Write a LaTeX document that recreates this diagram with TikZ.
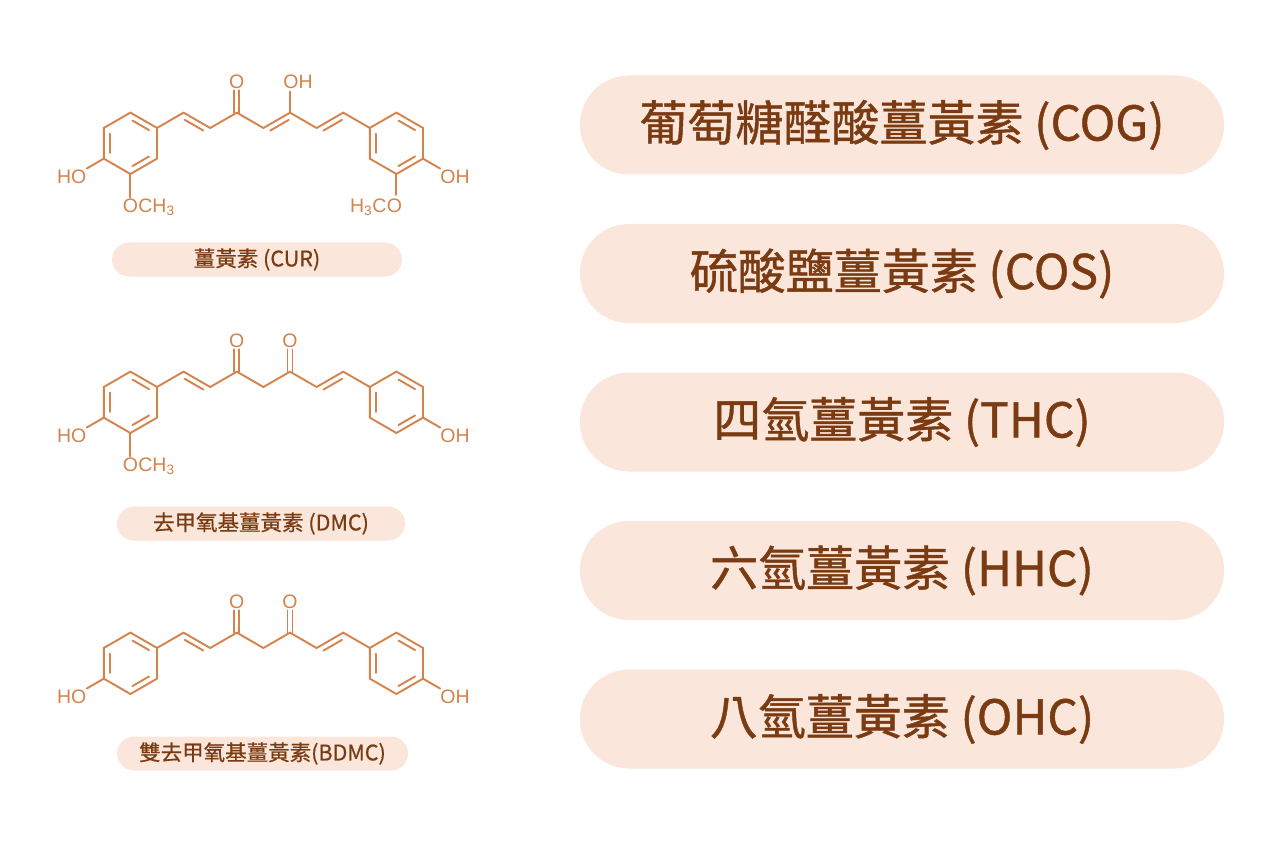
\documentclass[tikz,border=0pt]{standalone}
\usepackage{fontspec}
\setmainfont{Noto Sans CJK TC}
\newfontfamily\bigcjk[FakeBold=0.9]{Noto Sans CJK TC}
\newfontfamily\smallcjk[FakeBold=0.5]{Noto Sans CJK TC}
\newfontfamily\molfont{Liberation Sans}
\usetikzlibrary{calc}
\definecolor{molc}{HTML}{D4834C}
\definecolor{txtc}{HTML}{7A3B12}
\definecolor{pillc}{HTML}{FBE6DB}
\tikzset{
  bond/.style={draw=molc,line width=1.9pt,line cap=round},
  atom/.style={text=molc,font=\molfont\fontsize{19.5}{22}\selectfont,inner sep=1.5pt},
  bigpill/.style={fill=pillc,rounded corners=49pt,minimum width=644pt,minimum height=99pt,text=txtc,font=\bigcjk\fontsize{48}{56}\selectfont},
  smallpill/.style={fill=pillc,rounded corners=17pt,minimum height=34pt,text=txtc,font=\smallcjk\fontsize{21.5}{25}\selectfont}
}
\newcommand\innerb[3]{\draw[bond] ($($(#1)!0.78!(#2)$)!0.1!($(#1)!0.78!(#3)$)$) -- ($($(#1)!0.78!(#3)$)!0.1!($(#1)!0.78!(#2)$)$);}
\newcommand\dbl[4]{\draw[bond] ($($(#1)!0.15!(#2)$)+(#3,#4)$) -- ($($(#2)!0.15!(#1)$)+(#3,#4)$);}
\newcommand\skel{%
  \coordinate (Lc) at (130.4,143.3);
  \coordinate (Rc) at (396.4,143.3);
  \foreach \n/\a in {0/-90,1/-30,2/30,3/90,4/150,5/210}{%
    \coordinate (L\n) at ($(Lc)+(\a:30.7)$);
    \coordinate (R\n) at ($(Rc)+(\a:30.7)$);}
  \coordinate (c1) at (183.6,112.65);
  \coordinate (c2) at (210.2,128);
  \coordinate (c3) at (236.8,112.65);
  \coordinate (c4) at (263.4,128);
  \coordinate (c5) at (290,112.65);
  \coordinate (c6) at (316.6,128);
  \coordinate (c7) at (343.2,112.65);
  \draw[bond] (L0)--(L1)--(L2)--(L3)--(L4)--(L5)--cycle;
  \draw[bond] (R0)--(R1)--(R2)--(R3)--(R4)--(R5)--cycle;
  \innerb{Lc}{L4}{L5}\innerb{Lc}{L0}{L1}\innerb{Lc}{L2}{L3}
  \innerb{Rc}{R4}{R5}\innerb{Rc}{R0}{R1}\innerb{Rc}{R2}{R3}
  \draw[bond] (L1)--(c1)--(c2)--(c3)--(c4)--(c5)--(c6)--(c7)--(R5);
  \dbl{c1}{c2}{-2.8}{4.9}
  \dbl{c6}{c7}{2.8}{4.9}
  \node[atom] (ho) at ($(L4)+(150:37)$) {HO};
  \draw[bond] (L4) -- (ho);
  \node[atom] (oh) at ($(R2)+(30:37)$) {OH};
  \draw[bond] (R2) -- (oh);
  \node[atom] (o3) at ($(c3)+(0,-31)$) {O};
  \draw[bond] ($(c3)+(-2.5,0)$) -- ($(o3.south)+(-2.5,0)$);
  \draw[bond] ($(c3)+(2.5,0)$) -- ($(o3.south)+(2.5,0)$);
}
\newcommand\ketfive{%
  \node[atom] (o5) at ($(c5)+(0,-31)$) {O};
  \draw[bond] ($(c5)+(-2.5,0)$) -- ($(o5.south)+(-2.5,0)$);
  \draw[bond] ($(c5)+(2.5,0)$) -- ($(o5.south)+(2.5,0)$);}
\newcommand\omeleft{%
  \node[atom] (om) at ($(L3)+(0,32)$) {O};
  \node[atom,anchor=base west,inner sep=0pt] (ch) at ($(om.base east)+(-1.5,0)$) {CH\textsubscript{3}};
  \draw[bond] (L3) -- (om);}
\begin{document}
\begin{tikzpicture}[x=1pt,y=-1pt]
\useasboundingbox (0,0) rectangle (1280,853);
\fill[white] (0,0) rectangle (1280,853);
% CUR
\begin{scope}
  \skel
  \dbl{c4}{c5}{2.8}{4.9}
  \node[atom] (oh5) at ($(c5)+(8,-31)$) {OH};
  \draw[bond] (c5) -- ($(c5)+(0,-21)$);
  \omeleft
  \node[atom] (omr) at ($(R3)+(-2,32)$) {O};
  \node[atom,anchor=base east,inner sep=0pt] (h3c) at ($(omr.base west)+(1.5,0)$) {H\textsubscript{3}C};
  \draw[bond] (R3) -- ($(R3)+(0,21)$);
\end{scope}
\node[smallpill,minimum width=290pt] (p1) at (257,259.5) {薑黃素 (CUR)};
% DMC
\begin{scope}[shift={(0,259)}]
  \skel
  \ketfive
  \omeleft
\end{scope}
\node[smallpill,minimum width=288pt] (p2) at (261,523.5) {去甲氧基薑黃素 (DMC)};
% BDMC
\begin{scope}[shift={(0,520)}]
  \skel
  \ketfive
\end{scope}
\node[smallpill,minimum width=291pt] (p3) at (262.5,753.5) {雙去甲氧基薑黃素(BDMC)};
% right pills
\node[bigpill] (b1) at (902,125) {葡萄糖醛酸薑黃素 (COG)};
\node[bigpill] (b2) at (902,273.5) {硫酸鹽薑黃素 (COS)};
\node[bigpill] (b3) at (902,422) {四氫薑黃素 (THC)};
\node[bigpill] (b4) at (902,570.5) {六氫薑黃素 (HHC)};
\node[bigpill] (b5) at (902,719) {八氫薑黃素 (OHC)};
\end{tikzpicture}
\end{document}
